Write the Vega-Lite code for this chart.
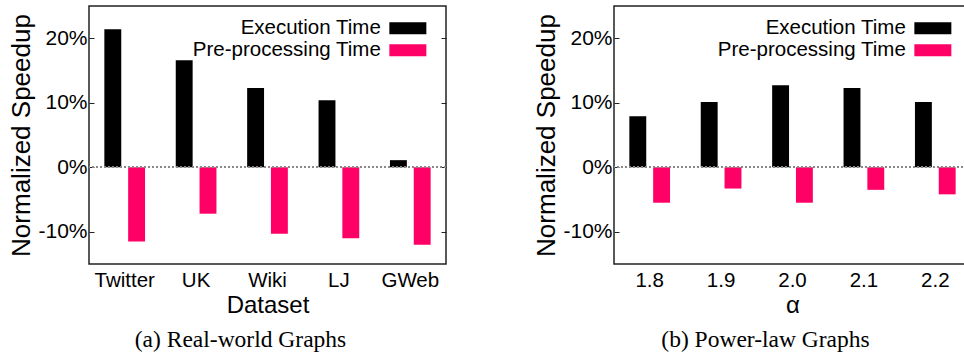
{
  "$schema": "https://vega.github.io/schema/vega-lite/v6.json",
  "padding": {"left": 8, "top": 5, "right": 0, "bottom": 0},
  "spacing": 85,
  "config": {
    "font": "Liberation Sans",
    "view": {"stroke": "#222222", "strokeWidth": 1.5},
    "axis": {"grid": false, "domain": false, "labelColor": "#000000", "titleColor": "#000000", "titleFontWeight": "normal"},
    "legend": {
      "orient": "none", "legendX": 308.6, "legendY": 12, "title": null, "padding": 0,
      "symbolType": "M-3.083,-1H3.083V1H-3.083Z", "symbolSize": 144, "symbolStrokeWidth": 0, "symbolOpacity": 1,
      "labelFontSize": 20.5, "labelColor": "#000000", "labelAlign": "right", "labelOffset": -37.3, "labelLimit": 0, "rowPadding": 1
    }
  },
  "resolve": {"legend": {"color": "independent"}},
  "hconcat": [
    {
      "width": 357, "height": 258,
      "title": {"text": "(a) Real-world Graphs", "orient": "bottom", "font": "Liberation Serif", "fontSize": 23.5, "fontWeight": "normal", "anchor": "middle", "frame": "group", "dx": -27, "offset": 10, "color": "#000000"},
      "data": {"values": [
        {"dataset": "Twitter", "series": "Execution Time", "value": 21.4},
        {"dataset": "Twitter", "series": "Pre-processing Time", "value": -11.5},
        {"dataset": "UK", "series": "Execution Time", "value": 16.6},
        {"dataset": "UK", "series": "Pre-processing Time", "value": -7.2},
        {"dataset": "Wiki", "series": "Execution Time", "value": 12.3},
        {"dataset": "Wiki", "series": "Pre-processing Time", "value": -10.3},
        {"dataset": "LJ", "series": "Execution Time", "value": 10.4},
        {"dataset": "LJ", "series": "Pre-processing Time", "value": -11.0},
        {"dataset": "GWeb", "series": "Execution Time", "value": 1.1},
        {"dataset": "GWeb", "series": "Pre-processing Time", "value": -12.0}
      ]},
      "layer": [
        {
          "mark": {"type": "bar"},
          "encoding": {
            "x": {"field": "dataset", "type": "nominal", "sort": null,
              "scale": {"paddingInner": 0.43, "paddingOuter": 0.215},
              "axis": {"title": "Dataset", "labelAngle": 0, "ticks": false, "labelFontSize": 20.5, "titleFontSize": 24, "labelPadding": 6, "titlePadding": 3}},
            "xOffset": {"field": "series", "type": "nominal", "sort": ["Execution Time", "Pre-processing Time"], "scale": {"paddingInner": 0.29, "paddingOuter": 0}},
            "y": {"field": "value", "type": "quantitative", "scale": {"domain": [-15, 25]},
              "axis": {"title": "Normalized Speedup", "values": [-10, 0, 10, 20], "labelExpr": "datum.value + '%'", "tickSize": -5, "tickColor": "#222222", "labelFontSize": 21, "titleFontSize": 26, "labelPadding": 7, "titlePadding": 3}},
            "color": {"field": "series", "type": "nominal", "scale": {"domain": ["Execution Time", "Pre-processing Time"], "range": ["#000000", "#ff0066"]}}
          }
        },
        {
          "mark": {"type": "rule", "color": "#888888", "strokeDash": [2, 2], "strokeWidth": 1.5},
          "encoding": {
            "y": {"datum": 0, "type": "quantitative",
              "axis": {"orient": "right", "title": null, "labels": false, "values": [-10, 0, 10, 20], "tickSize": -5, "tickColor": "#222222"}}
          }
        }
      ],
      "resolve": {"axis": {"y": "independent"}}
    },
    {
      "width": 357, "height": 258,
      "title": {"text": "(b) Power-law Graphs", "orient": "bottom", "font": "Liberation Serif", "fontSize": 23.5, "fontWeight": "normal", "anchor": "middle", "frame": "group", "dx": -27, "offset": 10, "color": "#000000"},
      "data": {"values": [
        {"alpha": "1.8", "series": "Execution Time", "value": 7.9},
        {"alpha": "1.8", "series": "Pre-processing Time", "value": -5.5},
        {"alpha": "1.9", "series": "Execution Time", "value": 10.1},
        {"alpha": "1.9", "series": "Pre-processing Time", "value": -3.3},
        {"alpha": "2.0", "series": "Execution Time", "value": 12.7},
        {"alpha": "2.0", "series": "Pre-processing Time", "value": -5.5},
        {"alpha": "2.1", "series": "Execution Time", "value": 12.3},
        {"alpha": "2.1", "series": "Pre-processing Time", "value": -3.5},
        {"alpha": "2.2", "series": "Execution Time", "value": 10.1},
        {"alpha": "2.2", "series": "Pre-processing Time", "value": -4.2}
      ]},
      "layer": [
        {
          "mark": {"type": "bar"},
          "encoding": {
            "x": {"field": "alpha", "type": "nominal", "sort": null,
              "scale": {"paddingInner": 0.43, "paddingOuter": 0.215},
              "axis": {"title": "α", "labelAngle": 0, "ticks": false, "labelFontSize": 20.5, "titleFontSize": 24, "labelPadding": 6, "titlePadding": 3}},
            "xOffset": {"field": "series", "type": "nominal", "sort": ["Execution Time", "Pre-processing Time"], "scale": {"paddingInner": 0.29, "paddingOuter": 0}},
            "y": {"field": "value", "type": "quantitative", "scale": {"domain": [-15, 25]},
              "axis": {"title": "Normalized Speedup", "values": [-10, 0, 10, 20], "labelExpr": "datum.value + '%'", "tickSize": -5, "tickColor": "#222222", "labelFontSize": 21, "titleFontSize": 26, "labelPadding": 7, "titlePadding": 3}},
            "color": {"field": "series", "type": "nominal", "scale": {"domain": ["Execution Time", "Pre-processing Time"], "range": ["#000000", "#ff0066"]}}
          }
        },
        {
          "mark": {"type": "rule", "color": "#888888", "strokeDash": [2, 2], "strokeWidth": 1.5},
          "encoding": {
            "y": {"datum": 0, "type": "quantitative",
              "axis": {"orient": "right", "title": null, "labels": false, "values": [-10, 0, 10, 20], "tickSize": -5, "tickColor": "#222222"}}
          }
        }
      ],
      "resolve": {"axis": {"y": "independent"}}
    }
  ]
}
